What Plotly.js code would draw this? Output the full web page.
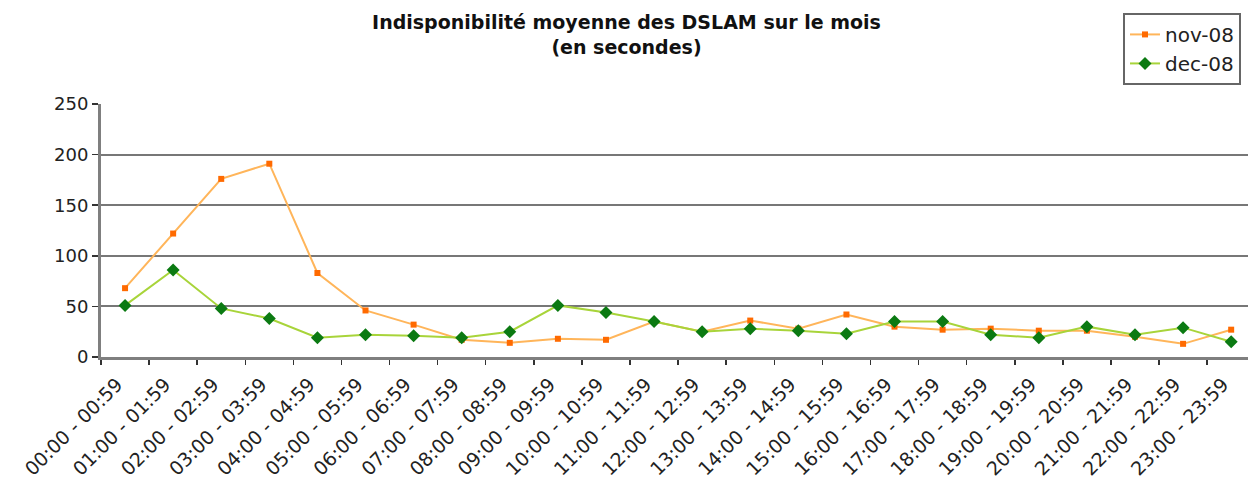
<!DOCTYPE html>
<html>
<head>
<meta charset="utf-8">
<script src="https://cdn.plot.ly/plotly-3.0.1.min.js"></script>
<style>
html,body{margin:0;padding:0;background:#fff;}
#chart{width:1248px;height:486px;}
</style>
</head>
<body>
<div id="chart"></div>
<script>
const categories = ["00:00 - 00:59","01:00 - 01:59","02:00 - 02:59","03:00 - 03:59","04:00 - 04:59","05:00 - 05:59","06:00 - 06:59","07:00 - 07:59","08:00 - 08:59","09:00 - 09:59","10:00 - 10:59","11:00 - 11:59","12:00 - 12:59","13:00 - 13:59","14:00 - 14:59","15:00 - 15:59","16:00 - 16:59","17:00 - 17:59","18:00 - 18:59","19:00 - 19:59","20:00 - 20:59","21:00 - 21:59","22:00 - 22:59","23:00 - 23:59"];
const nov08 = [68,122,176,191,83,46,32,17,14,18,17,35,25,36,28,42,30,27,28,26,26,20,13,27];
const dec08 = [51,86,48,38,19,22,21,19,25,51,44,35,25,28,26,23,35,35,22,19,30,22,29,15];
const yTicks = [0,50,100,150,200,250];

const traces = [
  {x: categories, y: nov08, name: "nov-08", type: "scatter", mode: "lines+markers",
   line: {color: "#FFB55A", width: 2},
   marker: {symbol: "square", size: 6, color: "#FF6A00"}},
  {x: categories, y: dec08, name: "dec-08", type: "scatter", mode: "lines+markers",
   line: {color: "#A8D43A", width: 2},
   marker: {symbol: "diamond", size: 10, color: "#0B7A12"}}
];

const layout = {
  width: 1248, height: 486,
  margin: {l: 101, r: 0, t: 104, b: 129},
  paper_bgcolor: "#fff", plot_bgcolor: "#fff",
  font: {family: "DejaVu Sans, Verdana, sans-serif", color: "#222"},
  title: {
    text: "<b>Indisponibilité moyenne des DSLAM sur le mois<br>(en secondes)</b>",
    font: {family: "DejaVu Sans, Verdana, sans-serif", size: 19, color: "#111"},
    x: 0.502, xref: "container", xanchor: "center",
    y: 0.94, yref: "container", yanchor: "middle"
  },
  showlegend: true,
  legend: {
    x: 0.891, xanchor: "left", y: 1.36, yanchor: "top",
    bgcolor: "#fff", bordercolor: "#666", borderwidth: 2,
    font: {family: "DejaVu Sans, Verdana, sans-serif", size: 20, color: "#222"}
  },
  xaxis: {
    type: "category",
    range: [-0.5, 23.35],
    tickangle: -45,
    tickson: "boundaries",
    ticks: "outside", ticklen: 5, tickwidth: 1.5, tickcolor: "#333",
    ticklabelstandoff: 6, ticklabelshift: -8,
    showline: true, linecolor: "#7f7f7f", linewidth: 3,
    showgrid: false,
    tickfont: {family: "DejaVu Sans, Verdana, sans-serif", size: 19, color: "#222"}
  },
  yaxis: {
    range: [0, 250],
    tickvals: yTicks,
    ticks: "outside", ticklen: 6, tickwidth: 1.5, tickcolor: "#333",
    showline: true, linecolor: "#7f7f7f", linewidth: 3,
    showgrid: true, gridcolor: "#777", gridwidth: 2,
    zeroline: false,
    tickfont: {family: "DejaVu Sans, Verdana, sans-serif", size: 18, color: "#222"}
  }
};

Plotly.newPlot("chart", traces, layout, {displayModeBar: false, staticPlot: true});
</script>
</body>
</html>
